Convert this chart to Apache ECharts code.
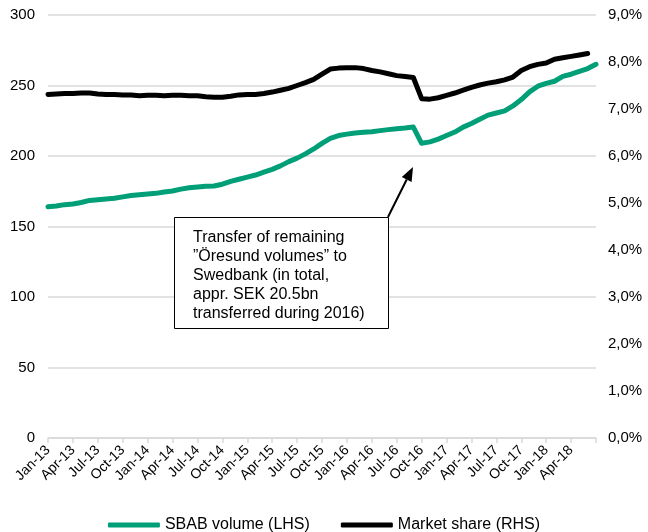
<!DOCTYPE html>
<html>
<head>
<meta charset="utf-8">
<script src="https://cdn.jsdelivr.net/npm/echarts@6/dist/echarts.min.js"></script>
<style>
html,body{margin:0;padding:0;background:#fff;}
#c{width:648px;height:532px;}
</style>
</head>
<body>
<div id="c"></div>
<script>
var categories = [
'Jan-13','Feb-13','Mar-13','Apr-13','May-13','Jun-13','Jul-13','Aug-13','Sep-13','Oct-13','Nov-13','Dec-13',
'Jan-14','Feb-14','Mar-14','Apr-14','May-14','Jun-14','Jul-14','Aug-14','Sep-14','Oct-14','Nov-14','Dec-14',
'Jan-15','Feb-15','Mar-15','Apr-15','May-15','Jun-15','Jul-15','Aug-15','Sep-15','Oct-15','Nov-15','Dec-15',
'Jan-16','Feb-16','Mar-16','Apr-16','May-16','Jun-16','Jul-16','Aug-16','Sep-16','Oct-16','Nov-16','Dec-16',
'Jan-17','Feb-17','Mar-17','Apr-17','May-17','Jun-17','Jul-17','Aug-17','Sep-17','Oct-17','Nov-17','Dec-17',
'Jan-18','Feb-18','Mar-18','Apr-18','May-18','Jun-18','Jul-18'
];
// SBAB volume (LHS), SEK bn
var sbabVolume = [
164,164.5,165.5,166,167,168.5,169,169.5,170,171,172,172.5,
173,173.5,174.5,175.2,176.5,177.5,178,178.5,178.7,180,182,183.5,
185,186.5,188.5,190.5,193,196,198.5,201.5,205,209,212.5,214.5,
215.5,216.3,216.8,217.2,218,218.7,219.3,219.8,220.5,209,210,212,
214.5,217,220.5,223,226,229,230.5,232,235.5,240,245.5,249.5,
251.5,253,256.5,258,260,262,265
];
// Market share (RHS), %
var marketShare = [
7.31,7.32,7.33,7.33,7.34,7.34,7.32,7.31,7.31,7.30,7.30,7.28,
7.29,7.29,7.28,7.29,7.29,7.28,7.28,7.26,7.25,7.25,7.27,7.30,
7.31,7.31,7.33,7.36,7.40,7.44,7.50,7.56,7.63,7.74,7.85,7.87,
7.88,7.88,7.86,7.82,7.79,7.75,7.71,7.69,7.67,7.22,7.21,7.24,
7.29,7.34,7.40,7.46,7.51,7.55,7.58,7.62,7.68,7.82,7.90,7.95,
7.98,8.06,8.09,8.12,8.15,8.18
];
var seriesNames = ['SBAB volume (LHS)', 'Market share (RHS)'];
var annotationText = 'Transfer of remaining\n\u201D\u00D6resund volumes\u201D to\nSwedbank (in total,\nappr. SEK 20.5bn\ntransferred during 2016)';

var FONT = 'Arial, "Liberation Sans", sans-serif';
var chart = echarts.init(document.getElementById('c'), null, {renderer: 'canvas'});
chart.setOption({
  animation: false,
  backgroundColor: '#fff',
  textStyle: {fontFamily: FONT},
  grid: {left: 48, right: 52, top: 15, bottom: 94, containLabel: false},
  legend: {
    top: 512, left: 'center',
    itemWidth: 52, itemHeight: 5, itemGap: 31,
    icon: 'roundRect',
    textStyle: {fontSize: 16, color: '#000', fontFamily: FONT, padding: [0,0,0,0]},
    data: seriesNames
  },
  xAxis: {
    type: 'category', data: categories, boundaryGap: false,
    axisLine: {lineStyle: {color: '#d9d9d9', width: 1.5}},
    axisTick: {show: true, length: 5, lineStyle: {color: '#d9d9d9', width: 1.5},
      interval: function (i) { return i % 3 === 0; }},
    axisLabel: {rotate: 45, fontSize: 14, color: '#000', margin: 10, fontFamily: FONT,
      interval: function (i) { return i % 3 === 0 && i < 66; }},
    splitLine: {show: false}
  },
  yAxis: [
    {type: 'value', min: 0, max: 300, interval: 50, position: 'left',
     axisLine: {show: false}, axisTick: {show: false},
     axisLabel: {fontSize: 15, color: '#000', margin: 13, fontFamily: FONT},
     splitLine: {lineStyle: {color: '#d9d9d9', width: 1.5}}},
    {type: 'value', min: 0, max: 9, interval: 1, position: 'right',
     axisLine: {show: false}, axisTick: {show: false},
     axisLabel: {fontSize: 15, color: '#000', margin: 12, fontFamily: FONT,
       formatter: function (v) { return v.toFixed(1).replace('.', ',') + '%'; }},
     splitLine: {show: false}}
  ],
  series: [
    {name: seriesNames[0], type: 'line', yAxisIndex: 0, data: sbabVolume,
     showSymbol: false, symbol: 'none', color: '#009f77',
     lineStyle: {width: 5, color: '#009f77', cap: 'round', join: 'round'}},
    {name: seriesNames[1], type: 'line', yAxisIndex: 1, data: marketShare,
     showSymbol: false, symbol: 'none', color: '#000',
     lineStyle: {width: 5, color: '#000', cap: 'round', join: 'round'}}
  ],
  graphic: [
    {type: 'rect', shape: {x: 174.5, y: 217.5, width: 214, height: 111},
     style: {fill: '#fff', stroke: '#000', lineWidth: 1}, z: 100},
    {type: 'text', x: 193, y: 228, z: 101,
     style: {text: annotationText, font: '16px ' + FONT, lineHeight: 19, fill: '#000'}},
    {type: 'line', shape: {x1: 388, y1: 217, x2: 406.7, y2: 179.5},
     style: {stroke: '#000', lineWidth: 2}, z: 101},
    {type: 'polygon', shape: {points: [[413, 167], [411.6, 182], [401.8, 177]]},
     style: {fill: '#000'}, z: 101}
  ]
});
</script>
</body>
</html>
